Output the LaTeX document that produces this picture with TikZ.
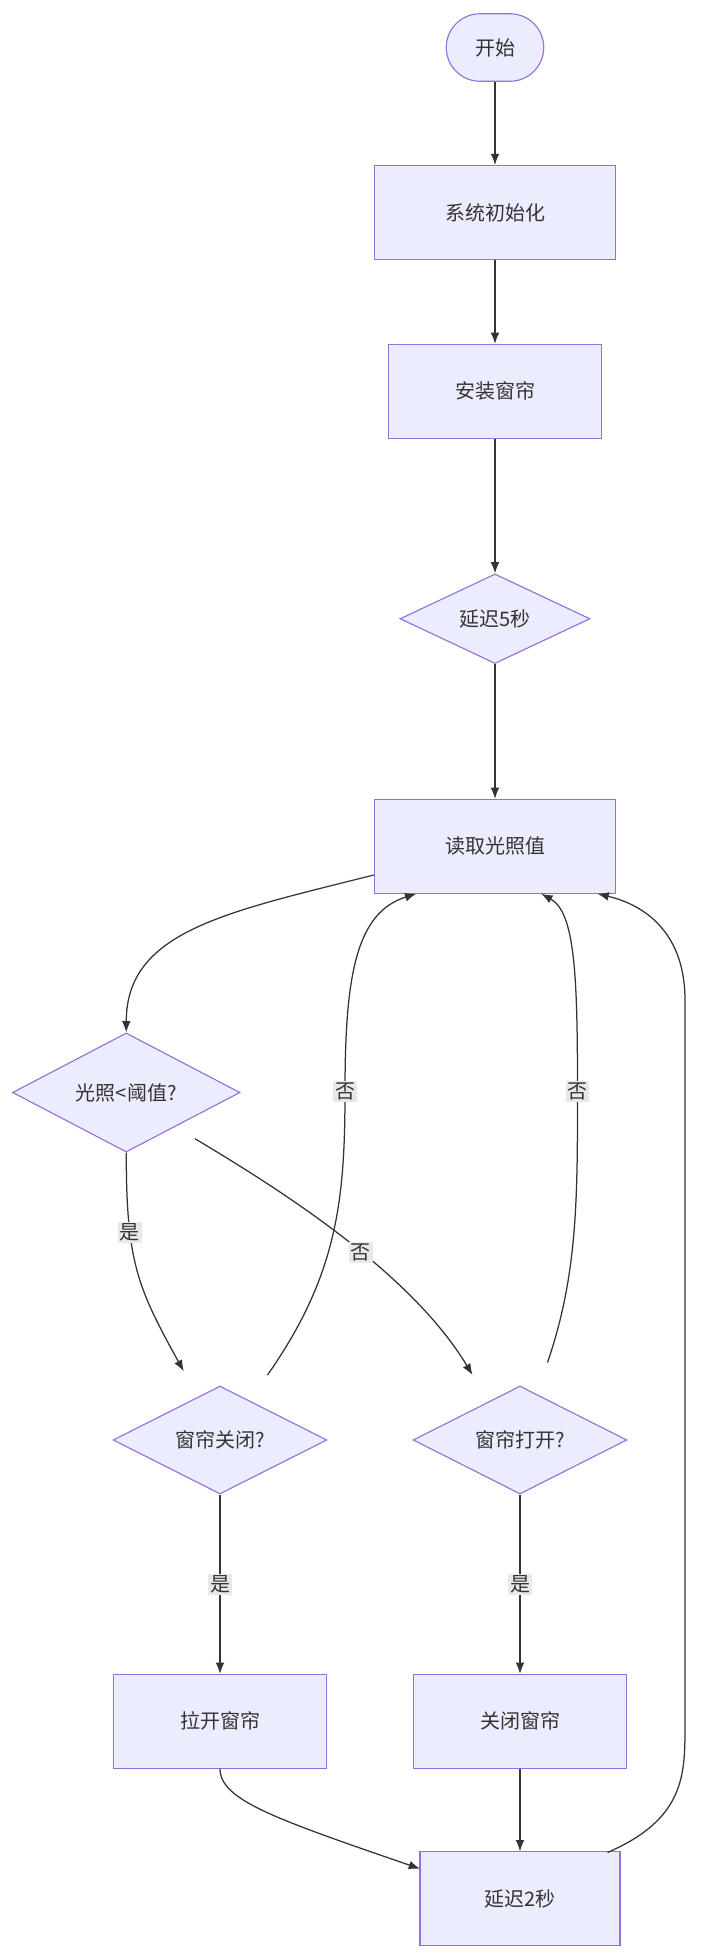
\documentclass[tikz,border=0pt]{standalone}
\usepackage{fontspec}
\setmainfont{Noto Sans CJK SC}
\usetikzlibrary{shapes.geometric,arrows.meta}
\definecolor{nf}{HTML}{ECECFF}
\definecolor{ns}{HTML}{9370DB}
\definecolor{ed}{HTML}{333333}
\definecolor{lb}{HTML}{E8E8E8}
\begin{document}
\begin{tikzpicture}[x=1pt,y=-1pt,
  every node/.style={font=\fontsize{16}{18}\selectfont, text=ed},
  box/.style={draw=ns, fill=nf, line width=0.9pt, minimum height=75pt, inner sep=0pt},
  dia/.style={draw=ns, fill=nf, line width=0.9pt, diamond, aspect=1, inner sep=0pt},
  stad/.style={draw=ns, fill=nf, line width=0.9pt, rounded corners=27pt, minimum width=78pt, minimum height=54pt},
  ar/.style={draw=ed, line width=1pt, -{Latex[length=9pt,width=7pt]}},
  lab/.style={fill=lb, inner sep=1.5pt}]
\useasboundingbox (0,0) rectangle (560,1568);
\node[stad] (start) at (396,38) {开始};
\node[box, minimum width=193pt] (init) at (396,170) {系统初始化};
\node[box, minimum width=171pt] (inst) at (396,313) {安装窗帘};
\node[dia, minimum width=152pt] (d5) at (396,495) {延迟5秒};
\node[box, minimum width=193pt] (read) at (396,677) {读取光照值};
\node[dia, minimum width=182pt] (cmp) at (101,874) {光照<阈值?};
\node[dia, minimum width=171pt] (isc) at (176,1152) {窗帘关闭?};
\node[dia, minimum width=171pt] (iso) at (416,1152) {窗帘打开?};
\node[box, minimum width=171pt] (open) at (176,1377) {拉开窗帘};
\node[box, minimum width=171pt] (close) at (416,1377) {关闭窗帘};
\node[box, minimum width=160pt] (d2) at (416,1519) {延迟2秒};

\draw[ar] (start) -- (init);
\draw[ar] (init) -- (inst);
\draw[ar] (inst) -- (d5);
\draw[ar] (d5) -- (read);
\draw[ar] (read.west |- 0,700) .. controls (180,730) and (101,745) .. (cmp.north);
\draw[ar] (cmp.south) .. controls (101,1010) and (110,1030) .. (147,1097) node[lab, pos=0.3] {是};
\draw[ar] (156,911) .. controls (230,955) and (330,1020) .. (378,1100) node[lab, pos=0.55] {否};
\draw[ar] (214,1100) .. controls (270,1020) and (276,960) .. (276,873) node[lab] {否} .. controls (276,780) and (285,730) .. (333,715);
\draw[ar] (438,1090) .. controls (462,1020) and (462,960) .. (462,873) node[lab] {否} .. controls (462,780) and (460,730) .. (433,715);
\draw[ar] (isc.south) -- (open.north) node[lab, pos=0.5] {是};
\draw[ar] (iso.south) -- (close.north) node[lab, pos=0.5] {是};
\draw[ar] (open.south) .. controls (176,1440) and (220,1455) .. (336,1495);
\draw[ar] (close) -- (d2);
\draw[ar] (486,1482) .. controls (548,1455) and (548,1420) .. (548,1380) -- (548,800) .. controls (548,750) and (520,725) .. (478,715);
\end{tikzpicture}
\end{document}
